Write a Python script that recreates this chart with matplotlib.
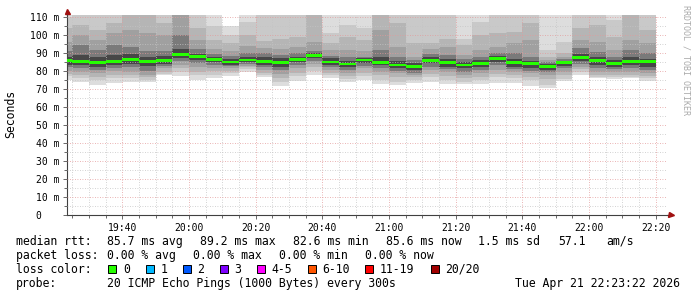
import matplotlib
matplotlib.use("Agg")
import matplotlib.pyplot as plt
import matplotlib.dates as mdates
from matplotlib.patches import Rectangle
from matplotlib.ticker import MultipleLocator, FuncFormatter
import numpy as np
import pandas as pd

plt.rcParams["font.family"] = ["DejaVu Sans Mono"]

# one column every 5 minutes, last stamp only closes the final step
times = pd.date_range("2026-04-21 19:20", periods=37, freq="5min")
view_start = pd.Timestamp("2026-04-21 19:23:22")
view_end = pd.Timestamp("2026-04-21 22:23:22")

# median rtt per column (ms)
median_ms = [85.7, 85.4, 84.8, 85.4, 86.5, 85.4, 86.0, 89.1, 88.1, 86.5, 85.0, 86.1,
             85.4, 84.8, 86.5, 88.5, 85.0, 83.9, 86.1, 84.8, 83.3, 82.4, 86.0, 84.8,
             83.3, 84.3, 87.0, 84.6, 84.1, 82.4, 84.8, 87.6, 86.0, 84.3, 85.4, 85.2]

# smoke: ping pairs, outermost (1) to innermost (6), upper side
hi1 = [114, 114, 114, 114, 114, 114, 114, 114, 114, 114, 105, 114,
       114, 114, 114, 114, 114, 114, 114, 114, 114, 114, 114, 114,
       114, 114, 114, 114, 114, 114, 114, 114, 114, 114, 114, 114]
hi2 = [110, 114, 114, 114, 114, 114, 114, 114, 114, 105, 100, 107.4,
       114, 114, 114, 114, 101, 105.6, 104, 114, 114, 114, 114, 114,
       98, 107.4, 114, 114, 114, 91.7, 96.3, 114, 114, 108.3, 114, 114]
hi3 = [104, 105.6, 102.8, 106.5, 114, 114, 106.5, 114, 104, 97, 95.4, 100,
       96.5, 97.5, 99, 114, 95.4, 99, 97, 114, 106.5, 95.4, 95.4, 98,
       94.4, 100, 101, 101.9, 106.5, 88, 89.8, 103.7, 105.6, 99.1, 114, 102.8]
hi4 = [96, 100, 97.2, 101, 102.8, 101, 100, 114, 97, 92, 91, 94,
       92.6, 92, 93.5, 96, 91.5, 91.7, 91, 102.8, 93.5, 88, 92, 93.5,
       89, 91.7, 93.5, 95.4, 97.2, 86, 87.5, 97.2, 96.3, 91.7, 97.2, 95.4]
hi5 = [91, 94.4, 91.7, 94.4, 93.5, 91, 91, 100, 92, 89.5, 88.5, 90,
       90, 89, 90, 91, 88.5, 88, 88, 91.7, 88, 86, 89.5, 89,
       86.5, 88, 89.8, 89.8, 88, 85, 86.5, 92.6, 90.7, 88, 91.7, 89.8]
hi6 = [88, 89, 88, 89, 89.5, 88, 88.5, 92, 89.5, 88, 86.5, 88,
       87.5, 87, 88, 89.8, 87, 85.5, 87, 88, 85.5, 84.5, 87.5, 86.5,
       85, 86, 88.2, 86.5, 85.5, 84, 85.8, 89.2, 87.5, 86, 87.5, 86.8]
# lower side
lo6 = [83.5, 83.3, 82.4, 83.3, 84, 82.5, 84, 87, 86, 85, 83.5, 85,
       83.5, 82.4, 85, 87, 83.3, 82, 84.5, 83.3, 81.5, 80.6, 84.3, 82.4,
       81.5, 82.4, 85, 82.4, 81.5, 80.6, 83, 85.5, 83.3, 82.4, 83.3, 82.4]
lo5 = [82, 81.5, 80.5, 81.5, 82, 80, 83, 85.5, 84.5, 83.5, 82.5, 84,
       82, 80.5, 83.3, 85.5, 82, 80.5, 83, 81.5, 80, 79, 82.4, 81,
       79.6, 80.5, 83.3, 81, 80, 79.5, 81.5, 84, 81.5, 81, 81.5, 80.5]
lo4 = [80, 79.6, 78.7, 80, 79.6, 78, 81.5, 83.5, 82, 81.5, 81.5, 83,
       80.5, 78.5, 81.5, 84, 80.5, 78.7, 81.5, 79.6, 78.7, 77.8, 80.6, 79.6,
       77.8, 78.7, 80.6, 79.6, 78.7, 77.8, 79.6, 82.4, 79.6, 79.6, 79.6, 78.7]
lo3 = [78.5, 78, 76.9, 77.8, 77.8, 76.5, 79.6, 81.5, 79.6, 80, 80, 82,
       79, 76, 79, 82, 79, 77, 79, 77.5, 76.5, 76.5, 78.5, 77,
       76, 76.5, 78.5, 77.5, 76.5, 75.5, 77.5, 81, 78, 78, 78, 77]
lo2 = [77, 76, 75, 75.9, 75.9, 75, 78.5, 79.6, 77.5, 78, 78.7, 81,
       77.8, 74, 77, 80, 77.8, 75.5, 77, 75, 74, 75, 76.5, 75,
       74.1, 75, 76.5, 75.9, 75, 72.2, 75.5, 79.6, 76.9, 76.5, 76.9, 75.9]
lo1 = [75, 74.1, 72.2, 73.1, 74.1, 74, 77.5, 77.2, 75, 76, 77, 79.6,
       76.5, 71.7, 74.5, 78, 75.9, 74, 75, 73, 72, 73.5, 74, 72.5,
       72.5, 72.5, 73.5, 73.5, 71.7, 70.7, 74.4, 77.8, 75.9, 75.6, 75.9, 74.4]

band_colors = ["#dddddd", "#c9c9c9", "#b5b5b5", "#a0a0a0", "#7a7a7a", "#474747"]

loss_labels = ["0", "1", "2", "3", "4-5", "6-10", "11-19", "20/20"]
loss_colors = ["#26ff00", "#00b8ff", "#0059ff", "#7e00ff", "#ff00ff", "#ff5500", "#ff0000", "#a10000"]

rtt_items = ["85.7 ms avg", "89.2 ms max", "82.6 ms min", "85.6 ms now", "1.5 ms sd", "57.1", "am/s"]
loss_items = ["0.00 % avg", "0.00 % max", "0.00 % min", "0.00 % now"]
probe_text = "20 ICMP Echo Pings (1000 Bytes) every 300s"
stamp_text = "Tue Apr 21 22:23:22 2026"

W, H = 697, 297


def fx(px):
    return px / W


def fy(py):
    return 1 - py / H


def ext(v):
    return np.append(v, v[-1])


fig = plt.figure(figsize=(W / 100, H / 100), dpi=100)
fig.patch.set_facecolor("white")
ax = fig.add_axes([fx(67), fy(215), 600 / W, 200 / H])

bands = [(lo1, hi1), (lo2, hi2), (lo3, hi3), (lo4, hi4), (lo5, hi5), (lo6, hi6)]
for (lo, hi), c in zip(bands, band_colors):
    ax.fill_between(times, ext(lo), ext(hi), step="post", color=c, lw=0, zorder=1)

# median drawn as a thin band per column (no vertical joins), like smokeping does
med = ext(median_ms)
ax.fill_between(times, med - 0.8, med + 0.8, step="post", color="#26ff00", lw=0, zorder=3)

ax.set_xlim(view_start, view_end)
ax.set_ylim(0, 111.1)

ax.xaxis.set_major_locator(mdates.MinuteLocator(byminute=[0, 20, 40]))
ax.xaxis.set_minor_locator(mdates.MinuteLocator(byminute=range(0, 60, 5)))
ax.xaxis.set_major_formatter(mdates.DateFormatter("%H:%M"))
ax.yaxis.set_major_locator(MultipleLocator(10))
ax.yaxis.set_minor_locator(MultipleLocator(5))
ax.yaxis.set_major_formatter(FuncFormatter(lambda v, p: "0   " if abs(v) < 1e-6 else f"{v:.0f} m"))

ax.set_axisbelow(False)
ax.grid(which="minor", color="#c4c4c4", lw=0.6, ls=(0, (1, 2)))
ax.grid(which="major", color="#e39a9a", lw=0.6, ls=(0, (1, 2)))

ax.tick_params(which="both", direction="out", color="#505050", width=0.6, labelsize=7, pad=2.5)
ax.tick_params(which="major", length=3)
ax.tick_params(which="minor", length=2)

for s in ["top", "right"]:
    ax.spines[s].set_visible(False)
for s in ["left", "bottom"]:
    ax.spines[s].set_color("#404040")
    ax.spines[s].set_linewidth(0.8)

# axis extensions and arrows
ax.plot([0, 0], [1, 1.015], transform=ax.transAxes, color="#404040", lw=0.8, clip_on=False)
ax.plot([1, 1.004], [0, 0], transform=ax.transAxes, color="#404040", lw=0.8, clip_on=False)
ax.plot([0], [1.0225], marker="^", ms=3.6, color="#a01010", transform=ax.transAxes, clip_on=False)
ax.plot([1.0067], [0], marker=">", ms=3.6, color="#a01010", transform=ax.transAxes, clip_on=False)

fig.text(fx(10.5), fy(114), "Seconds", rotation=90, ha="center", va="center", fontsize=8.3)
fig.text(fx(686), fy(60), "RRDTOOL / TOBI OETIKER", rotation=270, ha="center", va="center",
         fontsize=6, color="#aaaaaa")

fs = 8.3
# legend line 1
fig.text(fx(16), fy(245), "median rtt:", fontsize=fs, va="baseline")
for x, s in zip([107, 200, 293, 386, 478, 558, 606.5], rtt_items):
    fig.text(fx(x), fy(245), s, fontsize=fs, va="baseline")
# legend line 2
fig.text(fx(16), fy(259), "packet loss:", fontsize=fs, va="baseline")
for x, s in zip([107, 193, 279, 365], loss_items):
    fig.text(fx(x), fy(259), s, fontsize=fs, va="baseline")
# legend line 3
fig.text(fx(16), fy(273), "loss color:", fontsize=fs, va="baseline")
for x, lab, c in zip([108, 145.5, 182.5, 219.5, 256.5, 307.5, 365, 430.5], loss_labels, loss_colors):
    fig.patches.append(Rectangle((fx(x), fy(273)), 8 / W, 8 / H, transform=fig.transFigure,
                                 facecolor=c, edgecolor="black", lw=0.7))
    fig.text(fx(x + 15), fy(273), lab, fontsize=fs, va="baseline")
# legend line 4
fig.text(fx(16), fy(287), "probe:", fontsize=fs, va="baseline")
fig.text(fx(107), fy(287), probe_text, fontsize=fs, va="baseline")
fig.text(fx(680), fy(287), stamp_text, fontsize=fs, va="baseline", ha="right")

fig.savefig("out.png", dpi=100)
